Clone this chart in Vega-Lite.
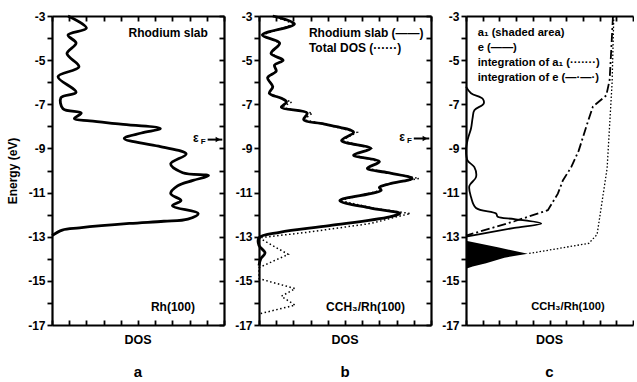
{
  "$schema": "https://vega.github.io/schema/vega-lite/v6.json",
  "background": "white",
  "padding": {"left": 6, "top": 10, "right": 0, "bottom": 0},
  "spacing": 35,
  "bounds": "flush",
  "config": {
    "view": {"stroke": null},
    "font": "Liberation Sans",
    "axis": {"domainColor": "black", "domainWidth": 2.2, "ticks": true, "tickColor": "black", "tickWidth": 1.8, "grid": false,
             "labelFont": "Liberation Sans", "labelFontWeight": "bold", "labelColor": "black", "labelFontSize": 12,
             "titleFont": "Liberation Sans", "titleFontWeight": "bold", "titleColor": "black", "titleFontSize": 12},
    "title": {"font": "Liberation Sans", "fontWeight": "bold", "fontSize": 12.5, "color": "black", "frame": "group",
              "subtitleFont": "Liberation Sans", "subtitleFontWeight": "bold", "subtitleFontSize": 15, "subtitleColor": "black", "subtitlePadding": 18},
    "text": {"font": "Liberation Sans", "fontWeight": "bold", "color": "black", "align": "left", "fontSize": 12}
  },
  "hconcat": [
    {
      "width": 172, "height": 309,
      "title": {"text": "DOS", "subtitle": "a", "orient": "bottom", "offset": 3},
      "layer": [
        {
          "data": {"values": [
            {"e": -3, "d": 0.93}, {"e": -3.55, "d": 2.0}, {"e": -3.86, "d": 0.93}, {"e": -4.23, "d": 1.4}, {"e": -4.7, "d": 0.87},
            {"e": -5.3, "d": 1.57}, {"e": -5.75, "d": 0.35}, {"e": -6.45, "d": 1.4}, {"e": -6.7, "d": 0.52}, {"e": -7.2, "d": 0.64},
            {"e": -7.4, "d": 1.7}, {"e": -7.65, "d": 1.3}, {"e": -7.75, "d": 2.2}, {"e": -7.9, "d": 4.0}, {"e": -8.1, "d": 6.3},
            {"e": -8.3, "d": 5.2}, {"e": -8.55, "d": 4.2}, {"e": -8.9, "d": 6.2}, {"e": -9.25, "d": 7.8}, {"e": -9.7, "d": 6.9},
            {"e": -10.1, "d": 7.6}, {"e": -10.23, "d": 9.1}, {"e": -10.45, "d": 8.2}, {"e": -10.7, "d": 7.3}, {"e": -11.05, "d": 6.9},
            {"e": -11.36, "d": 7.5}, {"e": -11.6, "d": 7.0}, {"e": -11.95, "d": 8.5}, {"e": -12.2, "d": 7.9}, {"e": -12.3, "d": 6.5},
            {"e": -12.4, "d": 4.5}, {"e": -12.6, "d": 1.6}, {"e": -12.7, "d": 0.6}, {"e": -12.95, "d": 0}
          ]},
          "mark": {"type": "line", "stroke": "black", "strokeWidth": 2.8, "interpolate": "catmull-rom"},
          "encoding": {
            "x": {"field": "d", "type": "quantitative", "scale": {"domain": [0, 10], "nice": false},
                  "axis": {"orient": "top", "offset": -309, "values": [0,1,2,3,4,5,6,7,8,9,10], "labels": false, "ticks": true, "tickSize": 5, "title": null}},
            "y": {"field": "e", "type": "quantitative", "scale": {"domain": [-17, -3], "nice": false},
                  "axis": {"orient": "left", "values": [-17,-16,-15,-14,-13,-12,-11,-10,-9,-8,-7,-6,-5,-4,-3], "ticks": true, "tickSize": 5, "labelPadding": 2,
                           "labelExpr": "datum.value % 2 == 0 ? '' : '-' + abs(datum.value)", "title": "Energy (eV)", "titlePadding": 8}},
            "order": {"field": "e", "sort": "descending"}
          }
        },
        {
          "data": {"values": [
            {"t": "Rhodium slab", "d": 4.45, "e": -3.77},
            {"t": "Rh(100)", "d": 5.75, "e": -16.2},
            {"t": "ε", "d": 8.2, "e": -8.55}
          ]},
          "mark": {"type": "text"},
          "encoding": {
            "x": {"field": "d", "type": "quantitative",
                  "axis": {"orient": "bottom", "offset": -309, "values": [0,1,2,3,4,5,6,7,8,9,10], "labels": false, "ticks": true, "tickSize": 5, "title": null}},
            "y": {"field": "e", "type": "quantitative",
                  "axis": {"orient": "left", "offset": -172, "values": [-17,-16,-15,-14,-13,-12,-11,-10,-9,-8,-7,-6,-5,-4,-3], "labels": false, "ticks": true, "tickSize": 5, "title": null}},
            "text": {"field": "t"}
          }
        },
        {
          "data": {"values": [{"t": "F", "d": 8.65, "e": -8.7}]},
          "mark": {"type": "text", "fontSize": 8},
          "encoding": {
            "x": {"field": "d", "type": "quantitative", "axis": null},
            "y": {"field": "e", "type": "quantitative", "axis": null},
            "text": {"field": "t"}
          }
        },
        {
          "data": {"values": [{"d": 9.05, "d2": 9.9, "e": -8.6}]},
          "mark": {"type": "rule", "stroke": "black", "strokeWidth": 2},
          "encoding": {
            "x": {"field": "d", "type": "quantitative", "axis": null},
            "x2": {"field": "d2"},
            "y": {"field": "e", "type": "quantitative", "axis": null}
          }
        },
        {
          "data": {"values": [{"d": 9.65, "e": -8.6}]},
          "mark": {"type": "point", "shape": "triangle-right", "filled": true, "color": "black", "size": 30, "opacity": 1},
          "encoding": {
            "x": {"field": "d", "type": "quantitative", "axis": null},
            "y": {"field": "e", "type": "quantitative", "axis": null}
          }
        }
      ],
      "resolve": {"axis": {"x": "independent", "y": "independent"}}
    },
    {
      "width": 172, "height": 309,
      "title": {"text": "DOS", "subtitle": "b", "orient": "bottom", "offset": 3},
      "layer": [
        {
          "data": {"values": [
            {"e": -3, "d": 0.8}, {"e": -3.36, "d": 2.06}, {"e": -3.86, "d": 0.2}, {"e": -4.23, "d": 1.2}, {"e": -4.7, "d": 0.7},
            {"e": -5.0, "d": 1.4}, {"e": -5.23, "d": 0.9}, {"e": -5.5, "d": 1.0}, {"e": -5.8, "d": 0.5}, {"e": -6.2, "d": 0.8},
            {"e": -6.5, "d": 0.6}, {"e": -6.73, "d": 1.3}, {"e": -6.9, "d": 1.9}, {"e": -7.14, "d": 1.3}, {"e": -7.4, "d": 3.1},
            {"e": -7.7, "d": 2.6}, {"e": -7.9, "d": 3.8}, {"e": -8.27, "d": 5.7}, {"e": -8.64, "d": 4.8}, {"e": -9.0, "d": 6.5},
            {"e": -9.3, "d": 5.5}, {"e": -9.6, "d": 7.0}, {"e": -9.9, "d": 6.3}, {"e": -10.1, "d": 7.5}, {"e": -10.36, "d": 9.3},
            {"e": -10.6, "d": 7.6}, {"e": -10.77, "d": 7.0}, {"e": -10.9, "d": 7.1}, {"e": -11.36, "d": 4.7}, {"e": -11.7, "d": 6.6},
            {"e": -11.95, "d": 8.8}, {"e": -12.1, "d": 8.0}, {"e": -12.4, "d": 6.5}, {"e": -12.8, "d": 2.8}, {"e": -13.05, "d": 0},
            {"e": -13.8, "d": 1.7}, {"e": -14.4, "d": 0}, {"e": -14.9, "d": 0}, {"e": -15.35, "d": 2.1}, {"e": -15.7, "d": 1.3},
            {"e": -16.1, "d": 2.1}, {"e": -16.5, "d": 0}
          ]},
          "mark": {"type": "line", "stroke": "black", "strokeWidth": 1.5, "strokeDash": [1.5, 2.5], "interpolate": "linear"},
          "encoding": {
            "x": {"field": "d", "type": "quantitative", "scale": {"domain": [0, 10], "nice": false},
                  "axis": {"orient": "top", "offset": -309, "values": [0,1,2,3,4,5,6,7,8,9,10], "labels": false, "ticks": true, "tickSize": 5, "title": null}},
            "y": {"field": "e", "type": "quantitative", "scale": {"domain": [-17, -3], "nice": false},
                  "axis": {"orient": "left", "values": [-17,-16,-15,-14,-13,-12,-11,-10,-9,-8,-7,-6,-5,-4,-3], "ticks": true, "tickSize": 5, "labelPadding": 2,
                           "labelExpr": "datum.value % 2 == 0 ? '' : '-' + abs(datum.value)", "title": null}},
            "order": {"field": "e", "sort": "descending"}
          }
        },
        {
          "data": {"values": [
            {"e": -3, "d": 0.8}, {"e": -3.36, "d": 2.06}, {"e": -3.86, "d": 0.2}, {"e": -4.23, "d": 1.2}, {"e": -4.7, "d": 0.7},
            {"e": -5.0, "d": 1.4}, {"e": -5.23, "d": 0.9}, {"e": -5.5, "d": 1.0}, {"e": -5.8, "d": 0.5}, {"e": -6.2, "d": 0.8},
            {"e": -6.5, "d": 0.6}, {"e": -6.73, "d": 1.3}, {"e": -6.9, "d": 1.6}, {"e": -7.14, "d": 1.3}, {"e": -7.4, "d": 2.8},
            {"e": -7.7, "d": 2.6}, {"e": -7.9, "d": 3.8}, {"e": -8.27, "d": 5.5}, {"e": -8.64, "d": 4.8}, {"e": -9.0, "d": 6.5},
            {"e": -9.3, "d": 5.5}, {"e": -9.6, "d": 7.0}, {"e": -9.9, "d": 6.3}, {"e": -10.1, "d": 7.5}, {"e": -10.36, "d": 8.9},
            {"e": -10.6, "d": 7.6}, {"e": -10.77, "d": 7.0}, {"e": -10.9, "d": 7.1}, {"e": -11.36, "d": 4.7}, {"e": -11.7, "d": 6.5},
            {"e": -11.95, "d": 8.2}, {"e": -12.1, "d": 7.6}, {"e": -12.5, "d": 4.1}, {"e": -12.8, "d": 1.2}, {"e": -13.05, "d": 0},
            {"e": -13.4, "d": 0}, {"e": -13.73, "d": 0.35}, {"e": -14.0, "d": 0.1}, {"e": -14.3, "d": 0}
          ]},
          "mark": {"type": "line", "stroke": "black", "strokeWidth": 2.8, "interpolate": "catmull-rom"},
          "encoding": {
            "x": {"field": "d", "type": "quantitative", "axis": null},
            "y": {"field": "e", "type": "quantitative", "axis": null},
            "order": {"field": "e", "sort": "descending"}
          }
        },
        {
          "data": {"values": [
            {"t": "Rhodium slab (——)", "d": 2.9, "e": -3.77},
            {"t": "Total  DOS (······)", "d": 2.9, "e": -4.45},
            {"t": "CCH₃/Rh(100)", "d": 3.9, "e": -16.2},
            {"t": "ε", "d": 8.15, "e": -8.5}
          ]},
          "mark": {"type": "text"},
          "encoding": {
            "x": {"field": "d", "type": "quantitative",
                  "axis": {"orient": "bottom", "offset": -309, "values": [0,1,2,3,4,5,6,7,8,9,10], "labels": false, "ticks": true, "tickSize": 5, "title": null}},
            "y": {"field": "e", "type": "quantitative",
                  "axis": {"orient": "left", "offset": -172, "values": [-17,-16,-15,-14,-13,-12,-11,-10,-9,-8,-7,-6,-5,-4,-3], "labels": false, "ticks": true, "tickSize": 5, "title": null}},
            "text": {"field": "t"}
          }
        },
        {
          "data": {"values": [{"t": "F", "d": 8.6, "e": -8.65}]},
          "mark": {"type": "text", "fontSize": 8},
          "encoding": {
            "x": {"field": "d", "type": "quantitative", "axis": null},
            "y": {"field": "e", "type": "quantitative", "axis": null},
            "text": {"field": "t"}
          }
        },
        {
          "data": {"values": [{"d": 9.0, "d2": 9.9, "e": -8.55}]},
          "mark": {"type": "rule", "stroke": "black", "strokeWidth": 2},
          "encoding": {
            "x": {"field": "d", "type": "quantitative", "axis": null},
            "x2": {"field": "d2"},
            "y": {"field": "e", "type": "quantitative", "axis": null}
          }
        },
        {
          "data": {"values": [{"d": 9.65, "e": -8.55}]},
          "mark": {"type": "point", "shape": "triangle-right", "filled": true, "color": "black", "size": 30, "opacity": 1},
          "encoding": {
            "x": {"field": "d", "type": "quantitative", "axis": null},
            "y": {"field": "e", "type": "quantitative", "axis": null}
          }
        }
      ],
      "resolve": {"axis": {"x": "independent", "y": "independent"}}
    },
    {
      "width": 167, "height": 309,
      "title": {"text": "DOS", "subtitle": "c", "orient": "bottom", "offset": 3},
      "layer": [
        {
          "data": {"values": [
            {"e": -13.18, "d": 0}, {"e": -13.48, "d": 1.9}, {"e": -13.77, "d": 3.7}, {"e": -13.95, "d": 2.3},
            {"e": -14.2, "d": 1.2}, {"e": -14.35, "d": 0.4}, {"e": -14.45, "d": 0}
          ]},
          "mark": {"type": "area", "orient": "horizontal", "color": "black", "opacity": 1, "interpolate": "linear"},
          "encoding": {
            "x": {"field": "d", "type": "quantitative", "scale": {"domain": [0, 10], "nice": false},
                  "axis": {"orient": "top", "offset": -309, "values": [0,1,2,3,4,5,6,7,8,9,10], "labels": false, "ticks": true, "tickSize": 5, "title": null}},
            "y": {"field": "e", "type": "quantitative", "scale": {"domain": [-17, -3], "nice": false},
                  "axis": {"orient": "left", "values": [-17,-16,-15,-14,-13,-12,-11,-10,-9,-8,-7,-6,-5,-4,-3], "ticks": true, "tickSize": 5, "labelPadding": 2,
                           "labelExpr": "datum.value % 2 == 0 ? '' : '-' + abs(datum.value)", "title": null}}
          }
        },
        {
          "data": {"values": [
            {"e": -6.2, "d": 0}, {"e": -6.5, "d": 0.3}, {"e": -6.75, "d": 1.0}, {"e": -6.97, "d": 1.06}, {"e": -7.27, "d": 0.5},
            {"e": -7.6, "d": 0.4}, {"e": -8.1, "d": 0.3}, {"e": -8.6, "d": 0.1}, {"e": -9.1, "d": 0}, {"e": -9.55, "d": 0.1},
            {"e": -9.85, "d": 0.5}, {"e": -10.3, "d": 0.6}, {"e": -10.7, "d": 0.2}, {"e": -11.2, "d": 0.3}, {"e": -11.7, "d": 0.6},
            {"e": -11.95, "d": 1.8}, {"e": -12.1, "d": 1.9}, {"e": -12.2, "d": 2.9}, {"e": -12.4, "d": 4.5}, {"e": -12.6, "d": 2.9},
            {"e": -12.8, "d": 1.4}, {"e": -13.0, "d": 0}
          ]},
          "mark": {"type": "line", "stroke": "black", "strokeWidth": 1.8, "interpolate": "catmull-rom"},
          "encoding": {
            "x": {"field": "d", "type": "quantitative", "axis": null},
            "y": {"field": "e", "type": "quantitative", "axis": null},
            "order": {"field": "e", "sort": "descending"}
          }
        },
        {
          "data": {"values": [
            {"e": -3, "d": 8.85}, {"e": -6, "d": 8.75}, {"e": -9.9, "d": 8.45}, {"e": -12.9, "d": 7.85},
            {"e": -13.3, "d": 7.35}, {"e": -13.77, "d": 3.7}
          ]},
          "mark": {"type": "line", "stroke": "black", "strokeWidth": 1.3, "strokeDash": [1.5, 2]},
          "encoding": {
            "x": {"field": "d", "type": "quantitative", "axis": null},
            "y": {"field": "e", "type": "quantitative", "axis": null},
            "order": {"field": "e", "sort": "descending"}
          }
        },
        {
          "data": {"values": [
            {"e": -3, "d": 8.8}, {"e": -4.5, "d": 8.7}, {"e": -5.9, "d": 8.6}, {"e": -6.6, "d": 8.4}, {"e": -7.1, "d": 7.6},
            {"e": -7.9, "d": 7.25}, {"e": -9.1, "d": 6.75}, {"e": -9.85, "d": 6.3}, {"e": -10.45, "d": 5.8}, {"e": -11.05, "d": 5.5},
            {"e": -11.8, "d": 4.9}, {"e": -12.3, "d": 2.9}, {"e": -12.95, "d": 0}
          ]},
          "mark": {"type": "line", "stroke": "black", "strokeWidth": 1.8, "strokeDash": [9, 3, 2, 3]},
          "encoding": {
            "x": {"field": "d", "type": "quantitative", "axis": null},
            "y": {"field": "e", "type": "quantitative", "axis": null},
            "order": {"field": "e", "sort": "descending"}
          }
        },
        {
          "data": {"values": [
            {"t": "a₁ (shaded area)", "d": 0.7, "e": -3.77},
            {"t": "e (——)", "d": 0.7, "e": -4.45},
            {"t": "integration of a₁ (·······)", "d": 0.7, "e": -5.13},
            {"t": "integration of e (—·—·)", "d": 0.7, "e": -5.8},
            {"t": "CCH₃/Rh(100)", "d": 3.9, "e": -16.2}
          ]},
          "mark": {"type": "text", "fontSize": 11.2},
          "encoding": {
            "x": {"field": "d", "type": "quantitative",
                  "axis": {"orient": "bottom", "offset": -309, "values": [0,1,2,3,4,5,6,7,8,9,10], "labels": false, "ticks": true, "tickSize": 5, "title": null}},
            "y": {"field": "e", "type": "quantitative", "axis": null},
            "text": {"field": "t"}
          }
        }
      ],
      "resolve": {"axis": {"x": "independent", "y": "independent"}}
    }
  ]
}
